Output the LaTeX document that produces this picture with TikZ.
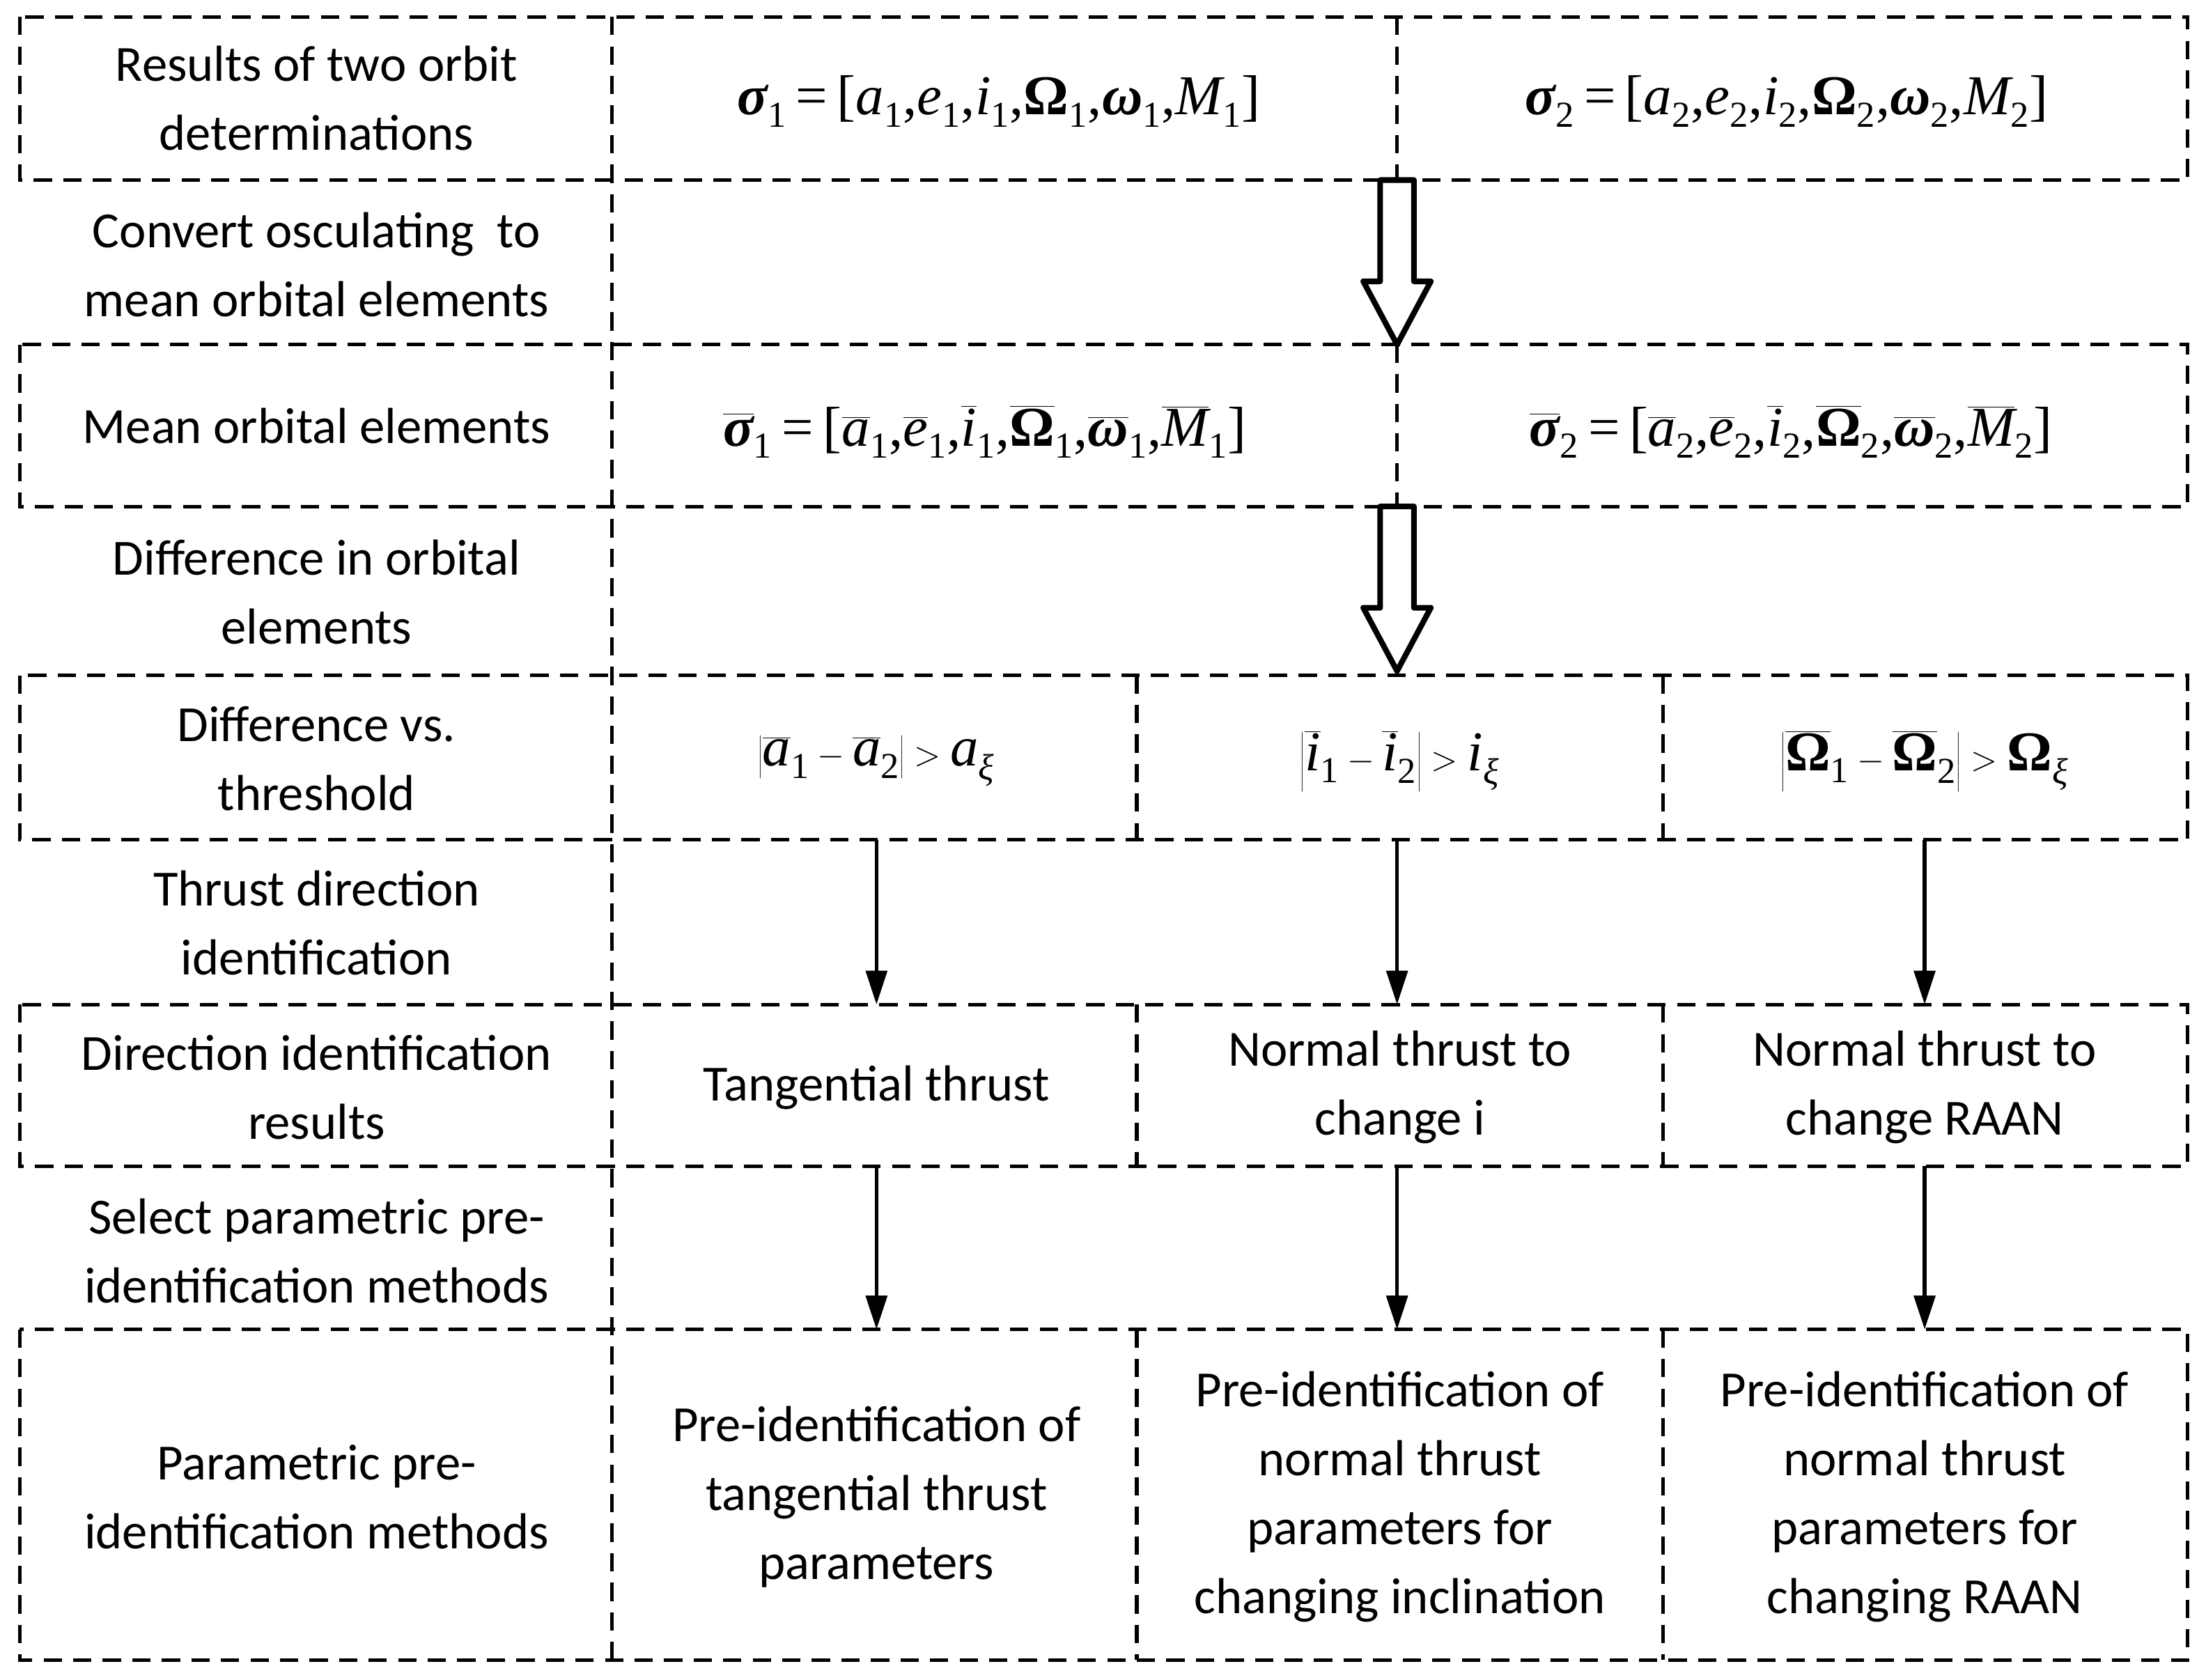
\documentclass[tikz,border=0pt]{standalone}
\usepackage{fontspec}
\setmainfont{Carlito}
\newfontfamily\tms{Liberation Serif}
\usetikzlibrary{arrows.meta,calc}
\newcommand\ob[1]{\ensuremath{\overline{\mbox{#1}}}}
\newcommand\sbb[1]{\ensuremath{_{\mbox{\tms\fontsize{26}{26}\selectfont #1}}}}
\newcommand\mi[1]{{\tms\itshape #1}}
\newcommand\gr[1]{{\tms\bfseries #1}}
\begin{document}
\begin{tikzpicture}[x=1pt,y=-1pt,
  dl/.style={dash pattern=on 13pt off 8pt, line width=2.6pt},
  txt/.style={align=center, font=\fontsize{36}{49}\selectfont, inner sep=0pt},
  mth/.style={inner sep=0pt, font=\tms\fontsize{40}{48}\selectfont},
  arr/.style={line width=2.6pt, -{Triangle[length=24pt,width=15pt]}},
  hol/.style={line width=4pt, line join=round, fill=white}]
\useasboundingbox (0,0) rectangle (1568,1194);
% boxes
\foreach \t/\b in {12/128,245/360,480/597,714/829,945/1180}{
  \draw[dl] (14,\t) rectangle (1555,\b);}
\draw[dl] (435,12) -- (435,1180);
\draw[dl] (993,12) -- (993,128);
\draw[dl] (993,245) -- (993,360);
\foreach \t/\b in {480/597,714/829,945/1180}{
  \draw[dl] (808,\t) -- (808,\b);
  \draw[dl] (1182,\t) -- (1182,\b);}
% left column
\node[txt] (l1) at (225,70) {Results of two orbit\\determinations};
\node[txt] (l2) at (225,188) {Convert osculating~~to\\mean orbital elements};
\node[txt] (l3) at (225,303) {Mean orbital elements};
\node[txt] (l4) at (225,421) {Difference in orbital\\elements};
\node[txt] (l5) at (225,539) {Difference vs.\\threshold};
\node[txt] (l6) at (225,656) {Thrust direction\\identification};
\node[txt] (l7) at (225,773) {Direction identification\\results};
\node[txt] (l8) at (225,889) {Select parametric pre-\\identification methods};
\node[txt] (l9) at (225,1064) {Parametric pre-\\identification methods};
% row 1
\node[mth] (s1) at (710,72) {\gr{\itshape σ}\sbb{1}\,=\,[\mi{a}\sbb{1},\mi{e}\sbb{1},\mi{i}\sbb{1},\gr{Ω}\sbb{1},\gr{\itshape ω}\sbb{1},\mi{M}\sbb{1}]};
\node[mth] (s2) at (1270,72) {\gr{\itshape σ}\sbb{2}\,=\,[\mi{a}\sbb{2},\mi{e}\sbb{2},\mi{i}\sbb{2},\gr{Ω}\sbb{2},\gr{\itshape ω}\sbb{2},\mi{M}\sbb{2}]};
% row 3
\node[mth] (m1) at (700,307) {\ob{\gr{\itshape σ}}\sbb{1}\,=\,[\ob{\mi{a}}\sbb{1},\ob{\mi{e}}\sbb{1},\ob{\mi{i}}\sbb{1},\ob{\gr{Ω}}\sbb{1},\ob{\gr{\itshape ω}}\sbb{1},\ob{\mi{M}}\sbb{1}]};
\node[mth] (m2) at (1273,307) {\ob{\gr{\itshape σ}}\sbb{2}\,=\,[\ob{\mi{a}}\sbb{2},\ob{\mi{e}}\sbb{2},\ob{\mi{i}}\sbb{2},\ob{\gr{Ω}}\sbb{2},\ob{\gr{\itshape ω}}\sbb{2},\ob{\mi{M}}\sbb{2}]};
% row 5
\node[mth] (d1) at (623,541) {$\left|\ob{\mi{a}}\sbb{1}-\ob{\mi{a}}\sbb{2}\right|>\mbox{\mi{a}}_{\mbox{\tms\itshape\fontsize{26}{26}\selectfont ξ}}$};
\node[mth] (d2) at (995,541) {$\left|\ob{\mi{i}}\sbb{1}-\ob{\mi{i}}\sbb{2}\right|>\mbox{\mi{i}}_{\mbox{\tms\itshape\fontsize{26}{26}\selectfont ξ}}$};
\node[mth] (d3) at (1368,541) {$\left|\ob{\gr{Ω}}\sbb{1}-\ob{\gr{Ω}}\sbb{2}\right|>\mbox{\gr{Ω}}_{\mbox{\tms\itshape\fontsize{26}{26}\selectfont ξ}}$};
% row 7
\node[txt] (r1) at (623,773) {Tangential thrust};
\node[txt] (r2) at (995,773) {Normal thrust to\\change i};
\node[txt] (r3) at (1368,773) {Normal thrust to\\change RAAN};
% row 9
\node[txt] (p1) at (623,1064) {Pre-identification of\\tangential thrust\\parameters};
\node[txt] (p2) at (995,1064) {Pre-identification of\\normal thrust\\parameters for\\changing inclination};
\node[txt] (p3) at (1368,1064) {Pre-identification of\\normal thrust\\parameters for\\changing RAAN};
% solid arrows
\foreach \x/\n in {623/a,993/b,1368/c}{
  \coordinate (t6\n) at (\x,597); \coordinate (h6\n) at (\x,714);
  \coordinate (t8\n) at (\x,829); \coordinate (h8\n) at (\x,945);
  \draw[arr] (t6\n) -- (h6\n);
  \draw[arr] (t8\n) -- (h8\n);}
% hollow arrows
\foreach \t/\n in {128/u,360/v}{
  \coordinate (ho\n) at (993,\t);
  \draw[hol] ($(ho\n)+(-12,0)$) -- ++(0,72) -- ++(-12,0) -- ($(ho\n)+(0,117)$) -- ($(ho\n)+(24,72)$) -- ++(-12,0) -- ($(ho\n)+(12,0)$) -- cycle;}
\end{tikzpicture}
\end{document}
